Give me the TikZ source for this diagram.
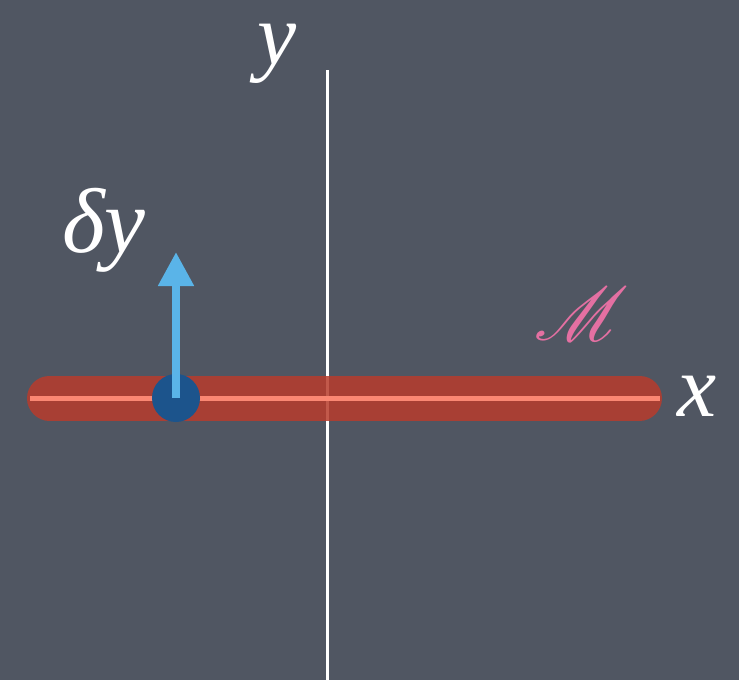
\documentclass[tikz,border=0pt]{standalone}
\usepackage{fontspec}
\setmainfont{Liberation Serif}
\usepackage{mathrsfs}
\usepackage{graphicx}
\usetikzlibrary{arrows.meta}
\definecolor{board}{RGB}{80,86,98}
\definecolor{barred}{RGB}{184,60,44}
\definecolor{salmon}{RGB}{250,135,115}
\definecolor{dotblue}{RGB}{28,84,140}
\definecolor{arrowblue}{RGB}{90,180,232}
\definecolor{mpink}{RGB}{228,112,162}
\tikzset{
  lbl/.style={text=white, inner sep=0pt, anchor=base, font=\fontsize{88}{88}\selectfont\itshape},
  axisline/.style={white, line width=3pt},
  bar/.style={barred, line width=45pt, line cap=round, opacity=0.85},
  core/.style={salmon, line width=5pt},
  pt/.style={circle, fill=dotblue, minimum size=48pt, inner sep=0pt},
  vec/.style={arrowblue, line width=8pt, -{Triangle[width=34pt,length=34pt]}}
}
\begin{document}
\begin{tikzpicture}[x=1pt,y=-1pt]
\fill[board] (0,0) rectangle (739,680);
\useasboundingbox (0,0) rectangle (739,680);
\coordinate (ytop) at (327,70);
\coordinate (ybot) at (327,680);
\draw[axisline] (ytop) -- (ybot);
\coordinate (barL) at (49.5,398);
\coordinate (barR) at (639.5,398);
\draw[bar] (barL) -- (barR);
\coordinate (coreL) at (30,398);
\coordinate (coreR) at (660,398);
\draw[core] (coreL) -- (coreR);
\node[pt] (p) at (176,398) {};
\coordinate (tip) at (176,252);
\draw[vec] (p.center) -- (tip);
\node[lbl, text height=46pt] (ylbl) at (277,64) {y};
\node[lbl] (xlbl) at (697,416) {x};
\node[lbl, font=\fontsize{92}{92}\selectfont\itshape] (dylbl) at (104,252) {δy};
\node[lbl, text=mpink, font=\normalsize] (mlbl) at (582,340) {\scalebox{7.6}{$\mathscr{M}$}};
\end{tikzpicture}
\end{document}
